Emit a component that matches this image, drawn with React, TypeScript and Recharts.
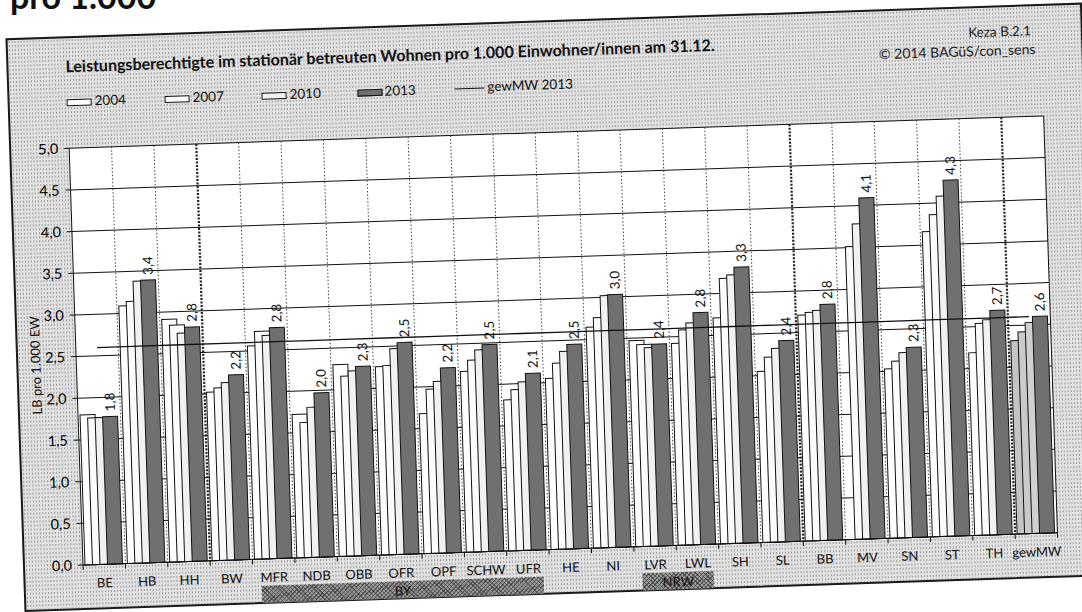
import React from 'react';
import {
  ComposedChart,
  Bar,
  Line,
  XAxis,
  YAxis,
  CartesianGrid,
  LabelList,
  Cell,
} from 'recharts';

// Leistungsberechtigte im stationär betreuten Wohnen pro 1.000 Einwohner/innen
const categories = [
  'BE', 'HB', 'HH', 'BW', 'MFR', 'NDB', 'OBB', 'OFR', 'OPF', 'SCHW', 'UFR',
  'HE', 'NI', 'LVR', 'LWL', 'SH', 'SL', 'BB', 'MV', 'SN', 'ST', 'TH', 'gewMW',
];
const values2004 = [1.80, 3.09, 2.91, 2.02, 2.56, 1.72, 2.30, 2.26, 1.68, 2.17, 1.81, 2.05, 2.65, 2.47, 2.42, 2.71, 2.05, 2.71, null, 2.03, 3.66, 2.19, 2.32];
const values2007 = [1.76, 3.14, 2.84, 2.07, 2.73, 1.62, 2.16, 2.27, 1.97, 2.30, 1.93, 2.23, 2.76, 2.42, 2.58, 3.18, 2.22, 2.74, 3.51, 2.12, 3.86, 2.54, 2.42];
const values2010 = [1.76, 3.38, 2.74, 2.13, 2.68, 1.80, 2.22, 2.47, 2.06, 2.42, 2.02, 2.37, 3.02, 2.38, 2.66, 3.22, 2.32, 2.76, 3.78, 2.22, 4.08, 2.58, 2.53];
const values2013 = [1.77, 3.39, 2.81, 2.22, 2.77, 1.97, 2.27, 2.54, 2.22, 2.48, 2.12, 2.45, 3.03, 2.42, 2.78, 3.31, 2.41, 2.83, 4.09, 2.28, 4.27, 2.69, 2.60];
// weighted mean 2013 (the gewMW column)
const gewMW2013 = values2013[values2013.length - 1];

const yTicks = [0, 0.5, 1, 1.5, 2, 2.5, 3, 3.5, 4, 4.5, 5];

// brackets under the axis and heavier separators between blocks of Länder
const regionGroups = [
  { label: 'BY', from: 'MFR', to: 'UFR' },
  { label: 'NRW', from: 'LVR', to: 'LWL' },
];
const heavySeparatorsAfter = ['HH', 'SL', 'TH'];

const legendItems = [
  { label: '2004', fill: '#ffffff', x: 82, textX: 110 },
  { label: '2007', fill: '#fbfbfb', x: 180, textX: 208 },
  { label: '2010', fill: '#f1f1f1', x: 277, textX: 305 },
  { label: '2013', fill: '#707070', x: 373, textX: 400 },
];

const rows = categories.map((cat, i) => ({
  cat,
  y2004: values2004[i],
  y2007: values2007[i],
  y2010: values2010[i],
  y2013: values2013[i],
  mw: gewMW2013,
}));

// layout
const W = 1082;
const H = 612;
const PLOT_LEFT = 83;
const PLOT_RIGHT = 1058;
const PLOT_TOP = 148;
const PLOT_BOTTOM = 565;
const Y_AXIS_W = 60;
const X_AXIS_H = 30;
const BAND = (PLOT_RIGHT - PLOT_LEFT) / categories.length;
const edgeX = (i: number) => PLOT_LEFT + i * BAND;

const FONT = 'Lato, "Open Sans", "DejaVu Sans", sans-serif';

const fmt = (v: number) => v.toFixed(1).replace('.', ',');

const heavyIdx = heavySeparatorsAfter.map((c) => categories.indexOf(c) + 1);
const thinLines: number[] = [];
const heavyLines: number[] = [];
for (let i = 1; i < categories.length; i++) {
  (heavyIdx.includes(i) ? heavyLines : thinLines).push(edgeX(i));
}

const CategoryTick = (props: any) => {
  const { x, payload, index } = props;
  const cx = Number(x);
  const last = index === categories.length - 1;
  return (
    <g>
      <line x1={cx - BAND / 2} x2={cx - BAND / 2} y1={PLOT_BOTTOM} y2={PLOT_BOTTOM + 5} stroke="#111" strokeWidth={1} />
      {last && (
        <line x1={cx + BAND / 2} x2={cx + BAND / 2} y1={PLOT_BOTTOM} y2={PLOT_BOTTOM + 5} stroke="#111" strokeWidth={1} />
      )}
      <text
        x={cx}
        y={PLOT_BOTTOM + 18}
        textAnchor="middle"
        dominantBaseline="central"
        fontSize={13}
        fontFamily={FONT}
        fill="#111"
      >
        {payload.value}
      </text>
    </g>
  );
};

const ValueLabel = (props: any) => {
  const { x, y, width, value } = props;
  if (value == null) return null;
  const cx = Number(x) + Number(width) / 2;
  const ty = Number(y) - 5;
  return (
    <text
      x={cx}
      y={ty}
      transform={`rotate(-90 ${cx} ${ty})`}
      textAnchor="start"
      dominantBaseline="central"
      fontSize={13.5}
      fontFamily={FONT}
      fill="#111"
    >
      {fmt(Number(value))}
    </text>
  );
};

const texture: React.CSSProperties = {
  backgroundColor: '#e0e0e0',
  backgroundImage:
    'radial-gradient(circle, rgba(70,70,70,0.45) 0.6px, transparent 1px), radial-gradient(circle, rgba(255,255,255,0.7) 0.6px, transparent 1px)',
  backgroundSize: '3px 4px, 5px 3px',
  backgroundPosition: '0 0, 1px 2px',
};

const hatch: React.CSSProperties = {
  backgroundColor: '#9a9a9a',
  backgroundImage:
    'repeating-linear-gradient(45deg, rgba(40,40,40,0.55) 0 1px, transparent 1px 3px), repeating-linear-gradient(-45deg, rgba(40,40,40,0.55) 0 1px, transparent 1px 3px)',
};

export default function App() {
  return (
    <div style={{ position: 'absolute', left: 0, top: 0, width: W, height: H, overflow: 'hidden', background: '#fff' }}>
      {/* heading of the page, running off the top edge */}
      <svg width={320} height={24} style={{ position: 'absolute', left: 0, top: 0 }}>
        <text x={10} y={9} fontSize={34} fontWeight={700} fontFamily={FONT} fill="#111">
          pro 1.000
        </text>
      </svg>

      <div
        style={{
          position: 'absolute',
          left: 0,
          top: 0,
          width: W,
          height: H,
          transform: 'rotate(-1.9deg)',
          transformOrigin: `${PLOT_LEFT}px ${PLOT_BOTTOM}px`,
          fontFamily: FONT,
        }}
      >
        {/* chart frame */}
        <div
          style={{
            position: 'absolute',
            left: 23,
            top: 36,
            width: 1100 - 23,
            height: 610 - 36,
            border: '2px solid #1a1a1a',
            boxSizing: 'border-box',
            ...texture,
          }}
        />

        <div style={{ position: 'absolute', left: 82, top: 56, fontSize: 16, fontWeight: 700, color: '#111', whiteSpace: 'nowrap' }}>
          Leistungsberechtigte im stationär betreuten Wohnen pro 1.000 Einwohner/innen am 31.12.
        </div>
        <div style={{ position: 'absolute', right: W - 1048, top: 54, fontSize: 13.5, color: '#222', whiteSpace: 'nowrap' }}>
          Keza B.2.1
        </div>
        <div style={{ position: 'absolute', right: W - 1052, top: 72, fontSize: 14, color: '#222', whiteSpace: 'nowrap' }}>
          © 2014 BAGüS/con_sens
        </div>

        {/* legend */}
        {legendItems.map((it) => (
          <React.Fragment key={it.label}>
            <div
              style={{
                position: 'absolute',
                left: it.x,
                top: 99,
                width: 25,
                height: 7,
                background: it.fill,
                border: '1px solid #111',
                boxSizing: 'border-box',
              }}
            />
            <div style={{ position: 'absolute', left: it.textX, top: 93, fontSize: 13.5, color: '#111' }}>{it.label}</div>
          </React.Fragment>
        ))}
        <div style={{ position: 'absolute', left: 470, top: 101, width: 30, height: 0, borderTop: '1.5px solid #111' }} />
        <div style={{ position: 'absolute', left: 503, top: 92, fontSize: 13.5, color: '#111' }}>gewMW 2013</div>

        {/* value axis title */}
        <svg width={40} height={200} style={{ position: 'absolute', left: 22, top: 264 }}>
          <text
            x={20}
            y={100}
            transform="rotate(-90 20 100)"
            textAnchor="middle"
            dominantBaseline="central"
            fontSize={13}
            fontFamily={FONT}
            fill="#111"
          >
            LB pro 1.000 EW
          </text>
        </svg>

        {/* Land brackets below the category axis */}
        {regionGroups.map((g) => {
          const l = edgeX(categories.indexOf(g.from)) + 8;
          const r = edgeX(categories.indexOf(g.to) + 1) - 6;
          return (
            <div
              key={g.label}
              style={{
                position: 'absolute',
                left: l,
                top: 592,
                width: r - l,
                height: 17,
                ...hatch,
                fontSize: 13,
                color: '#111',
                textAlign: 'center',
                lineHeight: '19px',
              }}
            >
              {g.label}
            </div>
          );
        })}

        <div style={{ position: 'absolute', left: 0, top: 0 }}>
          <ComposedChart
            width={W}
            height={H}
            data={rows}
            margin={{ top: PLOT_TOP, right: W - PLOT_RIGHT, left: PLOT_LEFT - Y_AXIS_W, bottom: H - PLOT_BOTTOM - X_AXIS_H }}
            barSize={15}
            barGap={-7.5}
            style={{ overflow: 'visible' }}
          >
            <CartesianGrid horizontal vertical verticalPoints={[PLOT_RIGHT]} stroke="#111" strokeWidth={1} fill="#ffffff" />
            <CartesianGrid horizontal={false} vertical verticalPoints={thinLines} stroke="#444" strokeWidth={1} strokeDasharray="1.5 2" />
            <CartesianGrid horizontal={false} vertical verticalPoints={heavyLines} stroke="#222" strokeWidth={2.2} strokeDasharray="2 1.5" />
            <XAxis
              dataKey="cat"
              type="category"
              interval={0}
              height={X_AXIS_H}
              tickLine={false}
              axisLine={{ stroke: '#111', strokeWidth: 1 }}
              tick={<CategoryTick />}
            />
            <YAxis
              domain={[0, 5]}
              ticks={yTicks}
              width={Y_AXIS_W}
              tickFormatter={fmt}
              tickSize={5}
              tickMargin={6}
              axisLine={{ stroke: '#111', strokeWidth: 1 }}
              tickLine={{ stroke: '#111' }}
              tick={{ fontSize: 14.5, fill: '#000', fontFamily: FONT }}
            />
            <Bar dataKey="y2004" stroke="#111" strokeWidth={1} isAnimationActive={false}>
              {rows.map((r) => (
                <Cell key={r.cat} fill={r.cat === 'gewMW' ? '#c4c4c4' : '#ffffff'} />
              ))}
            </Bar>
            <Bar dataKey="y2007" stroke="#111" strokeWidth={1} isAnimationActive={false}>
              {rows.map((r) => (
                <Cell key={r.cat} fill={r.cat === 'gewMW' ? '#cacaca' : '#fbfbfb'} />
              ))}
            </Bar>
            <Bar dataKey="y2010" stroke="#111" strokeWidth={1} isAnimationActive={false}>
              {rows.map((r) => (
                <Cell key={r.cat} fill={r.cat === 'gewMW' ? '#d0d0d0' : '#f1f1f1'} />
              ))}
            </Bar>
            <Bar dataKey="y2013" fill="#707070" stroke="#111" strokeWidth={1} isAnimationActive={false}>
              <LabelList dataKey="y2013" content={<ValueLabel />} />
            </Bar>
            <Line dataKey="mw" stroke="#111" strokeWidth={1.3} dot={false} activeDot={false} isAnimationActive={false} />
          </ComposedChart>
        </div>
      </div>
    </div>
  );
}
